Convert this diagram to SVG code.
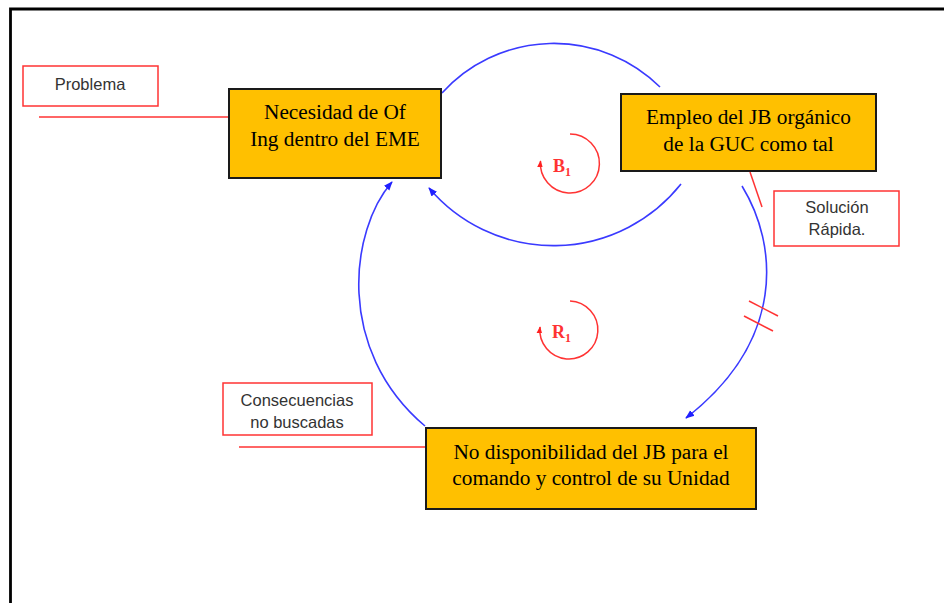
<svg xmlns="http://www.w3.org/2000/svg" width="944" height="603" viewBox="0 0 944 603">
<style>
.node rect{fill:#ffc000;stroke:#1a1a1a;stroke-width:2}
.node text{font-family:"Liberation Serif","Times New Roman",serif;font-size:21.3px;fill:#000;text-anchor:middle}
.lbl rect{fill:#fff;stroke:#ff3333;stroke-width:1.5}
.lbl text{font-family:"Liberation Sans",Arial,sans-serif;font-size:16.5px;fill:#333;text-anchor:middle}
.red{stroke:#ff3333;stroke-width:1.5;fill:none}
.blue{stroke:#3a3aff;stroke-width:1.6;fill:none}
.loop{font-family:"Liberation Serif","Times New Roman",serif;font-weight:bold;fill:#ff3333}
</style>
<defs>
<marker id="ab" viewBox="0 0 10 10" refX="9" refY="5" markerWidth="9" markerHeight="9" markerUnits="userSpaceOnUse" orient="auto">
<path d="M0,1 L10,5 L0,9 Z" fill="#2020ff"/>
</marker>
<marker id="ar" viewBox="0 0 10 10" refX="9" refY="5" markerWidth="7" markerHeight="7" markerUnits="userSpaceOnUse" orient="auto">
<path d="M0,1 L10,5 L0,9 Z" fill="#ff2020"/>
</marker>
</defs>
<rect x="0" y="0" width="944" height="603" fill="#fff"/>
<path d="M10.5,610 L10.5,9 L950,9" fill="none" stroke="#000" stroke-width="2.8"/>

<g id="connectors">
<path class="blue" d="M442,93 A151,151 0 0 1 660,87"/>
<path class="blue" d="M681,184 A163,163 0 0 1 429,188" marker-end="url(#ab)"/>
<path class="blue" d="M742,186 C778,245 786,340 686,418" marker-end="url(#ab)"/>
<path class="blue" d="M425,426 C335,350 350,230 392,182" marker-end="url(#ab)"/>
<line class="red" x1="749" y1="301" x2="778" y2="316"/>
<line class="red" x1="744" y1="316" x2="773" y2="331"/>
<line class="red" x1="39" y1="117" x2="229" y2="117"/>
<line class="red" x1="239" y1="447" x2="427" y2="447"/>
<line class="red" x1="750" y1="172" x2="762" y2="207"/>
</g>

<g id="loop-b1">
<path class="red" d="M570,134 A29.5,29.5 0 1 1 540.5,161" marker-end="url(#ar)"/>
<text class="loop" x="553" y="172" font-size="18px">B<tspan font-size="12px" dy="4">1</tspan></text>
</g>
<g id="loop-r1">
<path class="red" d="M570,301 A29,29 0 1 1 540,327" marker-end="url(#ar)"/>
<text class="loop" x="552" y="338" font-size="18px">R<tspan font-size="12px" dy="4">1</tspan></text>
</g>

<g id="node-necesidad" class="node">
<rect x="229" y="89" width="212" height="89"/>
<text x="335" y="118.5">Necesidad de Of</text>
<text x="335" y="146">Ing dentro del EME</text>
</g>
<g id="node-empleo" class="node">
<rect x="621" y="94" width="255" height="77"/>
<text x="748.5" y="123.5">Empleo del JB orgánico</text>
<text x="748.5" y="151">de la GUC como tal</text>
</g>
<g id="node-no-disponibilidad" class="node">
<rect x="426" y="428" width="330" height="81"/>
<text x="591" y="459">No disponibilidad del JB para el</text>
<text x="591" y="485">comando y control de su Unidad</text>
</g>

<g id="label-problema" class="lbl">
<rect x="23" y="66" width="135" height="40"/>
<text x="90" y="90">Problema</text>
</g>
<g id="label-solucion" class="lbl">
<rect x="774" y="191" width="125" height="55"/>
<text x="837" y="213">Solución</text>
<text x="837" y="235">Rápida.</text>
</g>
<g id="label-consecuencias" class="lbl">
<rect x="223" y="383" width="149" height="52"/>
<text x="297" y="406">Consecuencias</text>
<text x="297" y="428">no buscadas</text>
</g>
</svg>
